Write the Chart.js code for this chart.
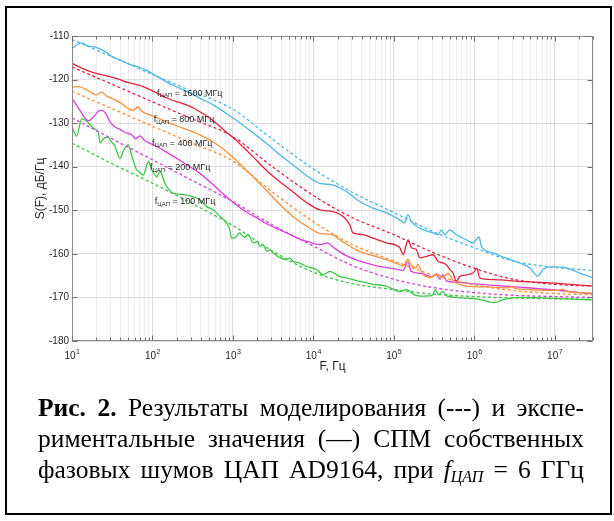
<!DOCTYPE html>
<html>
<head>
<meta charset="utf-8">
<script src="https://cdn.jsdelivr.net/npm/chart.js@4.4.0/dist/chart.umd.min.js"></script>
<style>
html, body { margin: 0; padding: 0; background: #fff; }
body { width: 614px; height: 521px; position: relative; overflow: hidden; }
#frame { position: absolute; left: 5px; top: 6px; width: 607px; height: 509px; border: 2px solid #000; box-sizing: border-box; }
#plot { position: absolute; left: 0; top: 0; }
#caption { position: absolute; left: 38px; top: 392px; width: 546px; font-family: "Liberation Serif", "Times New Roman", serif; font-size: 25.5px; line-height: 31px; color: #000; }
#caption div { text-align: justify; text-align-last: justify; }
#caption b { font-weight: bold; }
#caption sub { font-size: 16px; vertical-align: -4px; line-height: 0; }
</style>
</head>
<body>
<div id="frame"></div>
<canvas id="plot" width="614" height="400"></canvas>
<div id="caption">
  <div><b>Рис. 2.</b> Результаты моделирования (---) и экспе-</div>
  <div>риментальные значения (—) СПМ собственных</div>
  <div>фазовых шумов ЦАП AD9164, при <i>f<sub>ЦАП</sub></i> = 6 ГГц</div>
</div>
<script>
// model curves (dashed), common frequency grid
const modelF = [10, 30, 100, 300, 1e3, 3e3, 1e4, 3e4, 1e5, 3e5, 1e6, 3e6, 1e7, 3e7];
const model1600 = [-110.8, -114.6, -118.8, -122.6, -126.8, -133.5, -140.5, -145.8, -150.5, -154.8, -158.6, -161.6, -163.1, -163.8];
const model800  = [-117.1, -120.9, -125.1, -128.9, -133.1, -139.8, -146.6, -151.6, -155.6, -159.6, -163.3, -165.8, -167.0, -167.4];
const model400  = [-122.7, -126.5, -130.7, -134.5, -138.7, -145.6, -152.6, -157.8, -161.6, -164.8, -167.1, -168.4, -169.1, -169.4];
const model200  = [-128.8, -133.4, -138.4, -143.0, -148.0, -153.2, -158.2, -162.6, -165.8, -167.7, -168.9, -169.5, -169.8, -170.0];
const model100  = [-134.6, -139.1, -143.8, -148.3, -153.5, -159.2, -164.2, -166.8, -168.2, -169.2, -169.8, -170.1, -170.3, -170.4];

// measured curves (solid)
const meas1600F = [10, 13, 16, 20, 25, 32, 40, 50, 65, 85, 120, 180, 260, 390, 570, 830, 1200, 1800, 2600, 3800, 5600, 8200,
  12000, 17600, 25800, 37800, 55300, 81000, 119000, 137000, 150000, 166000, 210000, 308000, 355000, 392000, 430000, 497000,
  601000, 800000, 967000, 1150000, 1230000, 1710000, 2510000, 3670000, 4890000, 6200000, 7160000, 9550000, 14000000, 20400000, 30000000];
const meas1600 = [-112.9, -111.6, -112.3, -112.6, -113.4, -114.8, -115.5, -116.4, -117.0, -117.9, -119.5, -121.3, -122.6, -124.3, -125.8, -127.8, -129.8, -132.3, -134.6, -137.2, -139.6, -142.0,
  -143.8, -144.2, -145.7, -148.0, -149.5, -150.6, -152.2, -152.9, -151.0, -152.6, -154.1, -155.2, -155.6, -154.5, -155.6, -154.5,
  -155.6, -156.8, -157.5, -156.1, -158.3, -159.8, -161.0, -162.1, -163.2, -165.1, -163.6, -163.0, -163.2, -164.4, -165.5];

const meas800F = [10, 13, 16, 20, 28, 38, 50, 68, 90, 120, 160, 210, 280, 375, 550, 800, 1200, 1800, 2600, 3800, 5600, 8200,
  12000, 17600, 23500, 28400, 31200, 41600, 55300, 81000, 119000, 131000, 141000, 151000, 166000, 191000, 210000, 255000, 308000,
  355000, 410000, 450000, 497000, 546000, 601000, 661000, 800000, 967000, 1080000, 1170000, 1710000, 3670000, 9550000, 30000000];
const meas800 = [-116.3, -117.3, -118.0, -118.6, -119.2, -119.9, -120.7, -121.3, -122.2, -123.3, -124.4, -125.2, -126.0, -127.2, -129.2, -131.8, -134.6, -137.8, -140.8, -143.4, -145.8, -148.2,
  -149.9, -150.3, -151.4, -153.3, -155.2, -155.6, -156.4, -157.5, -158.6, -160.2, -158.3, -156.8, -158.6, -159.0, -160.9, -160.6, -160.2,
  -161.7, -162.1, -162.5, -163.6, -164.4, -166.3, -165.2, -164.8, -164.4, -163.3, -165.5, -165.9, -166.3, -166.7, -167.4];

const meas400F = [10, 12, 14, 17, 20, 23.5, 27, 32, 40, 48, 57, 66, 75, 90, 115, 150, 200, 280, 400, 560, 800, 1200, 1800, 2600, 3800, 5600, 8200,
  12000, 17000, 23000, 38000, 55000, 81000, 119000, 130000, 150000, 166000, 190000, 200000, 225000, 280000, 350000, 410000, 470000,
  560000, 800000, 1500000, 2600000, 2900000, 3300000, 6000000, 11000000, 12500000, 14000000, 30000000];
const meas400 = [-121.7, -121.6, -122.0, -122.9, -123.5, -122.9, -123.8, -124.4, -125.3, -126.4, -127.1, -126.3, -127.4, -128.0, -128.8, -129.7, -130.6, -131.6, -132.8, -134.2, -136.3, -139.2, -142.4, -145.4, -148.6, -151.4, -153.6,
  -155.3, -155.6, -157.2, -159.5, -160.4, -161.3, -162.5, -162.8, -161.3, -162.6, -163.2, -162.4, -164.4, -165.4, -164.8, -165.3, -164.5,
  -166.3, -167.4, -167.6, -167.8, -167.5, -168.0, -168.3, -168.4, -168.1, -168.6, -169.0];

const meas200F = [10, 12.1, 14.6, 16.1, 18.6, 22.5, 25.9, 29.9, 34.5, 40, 46, 55, 62, 70, 80, 90, 120, 160, 210, 280, 375, 471, 600, 750, 918, 1150, 1479, 2000, 2623, 3838, 5200, 6792, 9000,
  12050, 15000, 18000, 25000, 40000, 60000, 100000, 130000, 150000, 165000, 220000, 300000, 340000, 370000, 410000, 450000,
  600000, 1000000, 2000000, 4000000, 10000000, 30000000];
const meas200 = [-124.3, -126.6, -128.9, -129.5, -128.5, -127.0, -127.6, -129.8, -130.9, -131.5, -132.2, -132.6, -133.6, -132.9, -134.0, -134.5, -135.6, -137.0, -138.3, -139.8, -141.3, -142.8, -144.5, -146.2, -147.6, -149.0, -150.4, -151.8, -153.1, -154.5, -155.6, -156.6, -157.3,
  -157.9, -157.5, -158.6, -160.3, -161.8, -162.7, -163.4, -163.8, -161.9, -164.0, -164.5, -165.3, -164.6, -165.8, -164.8, -166.2,
  -166.5, -166.9, -167.3, -167.7, -168.3, -169.2];

const meas100F = [10, 11.4, 13.2, 15.2, 18.4, 21.2, 22.3, 25, 28, 31, 34, 39.5, 44, 50, 56, 63.6, 70, 77, 89, 100, 113, 124, 143, 160, 181, 220, 266, 321, 389, 471, 569, 690, 835,
  918, 964, 1112, 1200, 1282, 1400, 1549, 1787, 2000, 2163, 2400, 2623, 2900, 3166, 3800, 4645, 5100, 5613, 6792, 8240, 9500, 10970, 13250, 16030, 21380,
  25800, 37800, 55000, 81000, 119000, 145000, 180000, 240000, 300000, 330000, 360000, 410000, 450000, 700000,
  1200000, 1800000, 2300000, 3700000, 10000000, 30000000];
const meas100 = [-130.8, -133.0, -129.0, -129.5, -131.2, -132.0, -134.5, -133.5, -133.2, -134.3, -135.2, -138.1, -136.2, -135.0, -137.8, -140.7, -141.3, -141.9, -138.8, -141.0, -142.3, -141.1, -143.8, -145.2, -146.1, -146.3, -146.5, -146.9, -147.6, -149.1, -149.9, -151.4, -152.9,
  -154.5, -156.4, -156.0, -155.2, -155.6, -156.2, -155.6, -157.5, -157.2, -158.3, -158.0, -159.4, -159.1, -159.8, -160.8, -161.3, -161.0, -161.7, -162.1, -162.9, -163.2, -163.6, -164.8, -164.0, -165.2,
  -165.5, -166.3, -167.0, -167.4, -168.6, -168.2, -169.4, -169.7, -169.6, -168.2, -169.4, -168.6, -169.6, -170.1,
  -170.5, -171.2, -170.5, -170.0, -170.2, -170.6];

const colors = ['#4cb8e6', '#e3233b', '#f7913d', '#d640d6', '#3cc648'];
const labelVals = ['1600', '800', '400', '200', '100'];
// label anchors in data units (left edge, middle of text)
const labelPos = [[114, -123.1], [104, -129.2], [98.6, -134.6], [93, -140.2], [107, -148.1]];
const yTicks = [-180, -170, -160, -150, -140, -130, -120, -110];

const measF = [meas1600F, meas800F, meas400F, meas200F, meas100F];
const meas = [meas1600, meas800, meas400, meas200, meas100];
const models = [model1600, model800, model400, model200, model100];

const xTickVals = [];
for (let e = 1; e <= 7; e++) {
  for (let m = 1; m <= 9; m++) {
    const v = m * Math.pow(10, e);
    if (v <= 3e7) xTickVals.push(v);
  }
}
const isDecade = v => Math.abs(Math.log10(v) - Math.round(Math.log10(v))) < 1e-9;

const datasets = [];
for (let i = 0; i < 5; i++) {
  datasets.push({
    data: measF[i].map((f, k) => ({ x: f, y: meas[i][k] })),
    borderColor: colors[i], borderWidth: 1.3, pointRadius: 0,
    cubicInterpolationMode: 'monotone', fill: false
  });
  datasets.push({
    data: modelF.map((f, k) => ({ x: f, y: models[i][k] })),
    borderColor: colors[i], borderWidth: 1.3, borderDash: [3, 2.5], pointRadius: 0,
    cubicInterpolationMode: 'monotone', fill: false
  });
}

const decor = {
  id: 'decor',
  afterDraw(chart) {
    const { ctx, chartArea: a, scales: { x, y } } = chart;
    ctx.save();
    ctx.strokeStyle = '#8c8c8c';
    ctx.lineWidth = 1;
    const L = Math.round(a.left) + 0.5, R = Math.round(a.right) - 0.5;
    const T = Math.round(a.top) + 0.5, B = Math.round(a.bottom) - 0.5;
    ctx.strokeRect(L, T, R - L, B - T);
    // inward tick marks
    ctx.strokeStyle = '#6e6e6e';
    ctx.beginPath();
    xTickVals.forEach(v => {
      const px = Math.round(x.getPixelForValue(v)) + 0.5;
      const len = isDecade(v) ? 5 : 3;
      ctx.moveTo(px, B); ctx.lineTo(px, B - len);
      ctx.moveTo(px, T); ctx.lineTo(px, T + len);
    });
    yTicks.forEach(v => {
      const py = Math.round(y.getPixelForValue(v)) + 0.5;
      ctx.moveTo(L, py); ctx.lineTo(L + 5, py);
      ctx.moveTo(R, py); ctx.lineTo(R - 5, py);
    });
    ctx.stroke();
    // x tick labels 10^n
    ctx.fillStyle = '#262626';
    ctx.textBaseline = 'alphabetic';
    ctx.textAlign = 'left';
    for (let e = 1; e <= 7; e++) {
      const px = x.getPixelForValue(Math.pow(10, e));
      ctx.font = '10px "Liberation Sans", Arial, sans-serif';
      const w1 = ctx.measureText('10').width;
      ctx.font = '7px "Liberation Sans", Arial, sans-serif';
      const w2 = ctx.measureText(String(e)).width;
      const x0 = px - (w1 + w2) / 2;
      ctx.font = '10px "Liberation Sans", Arial, sans-serif';
      ctx.fillText('10', x0, a.bottom + 18);
      ctx.font = '7px "Liberation Sans", Arial, sans-serif';
      ctx.fillText(String(e), x0 + w1 + 0.5, a.bottom + 13);
    }
    // curve labels
    for (let i = 0; i < labelVals.length; i++) {
      let px = x.getPixelForValue(labelPos[i][0]);
      const py = y.getPixelForValue(labelPos[i][1]);
      ctx.textBaseline = 'middle';
      ctx.font = '9px "Liberation Sans", Arial, sans-serif';
      ctx.fillText('f', px, py);
      px += ctx.measureText('f').width;
      ctx.font = '6px "Liberation Sans", Arial, sans-serif';
      ctx.fillText('ЦАП', px, py + 2.5);
      px += ctx.measureText('ЦАП').width;
      ctx.font = '9px "Liberation Sans", Arial, sans-serif';
      ctx.fillText(' = ' + labelVals[i] + ' МГц', px, py);
    }
    ctx.restore();
  }
};

Chart.defaults.font.family = '"Liberation Sans", Arial, sans-serif';
new Chart(document.getElementById('plot').getContext('2d'), {
  type: 'line',
  data: { datasets },
  plugins: [decor],
  options: {
    responsive: false,
    animation: false,
    devicePixelRatio: 1,
    layout: { padding: { left: 10, right: 21, top: 36, bottom: 19 } },
    plugins: { legend: { display: false }, tooltip: { enabled: false } },
    scales: {
      x: {
        type: 'logarithmic', min: 10, max: 3e7,
        afterBuildTicks: s => { s.ticks = xTickVals.map(v => ({ value: v })); },
        afterFit: s => { s.height = 40; },
        ticks: { display: false },
        grid: {
          drawTicks: false,
          color: c => (c.tick && isDecade(c.tick.value)) ? '#dcdcdc' : '#eeeeee'
        },
        border: { display: false },
        title: { display: true, text: 'F, Гц', color: '#262626', font: { size: 12 }, padding: { top: 0, bottom: 7 } }
      },
      y: {
        min: -180, max: -110,
        afterBuildTicks: s => { s.ticks = yTicks.map(v => ({ value: v })); },
        afterFit: s => { s.width = 62; },
        ticks: { color: '#262626', font: { size: 10 }, padding: 3 },
        grid: { drawTicks: false, color: '#dedede' },
        border: { display: false },
        title: { display: true, text: 'S(F), дБ/Гц', color: '#262626', font: { size: 12 }, padding: { top: 23, bottom: 0 } }
      }
    }
  }
});
</script>
</body>
</html>
